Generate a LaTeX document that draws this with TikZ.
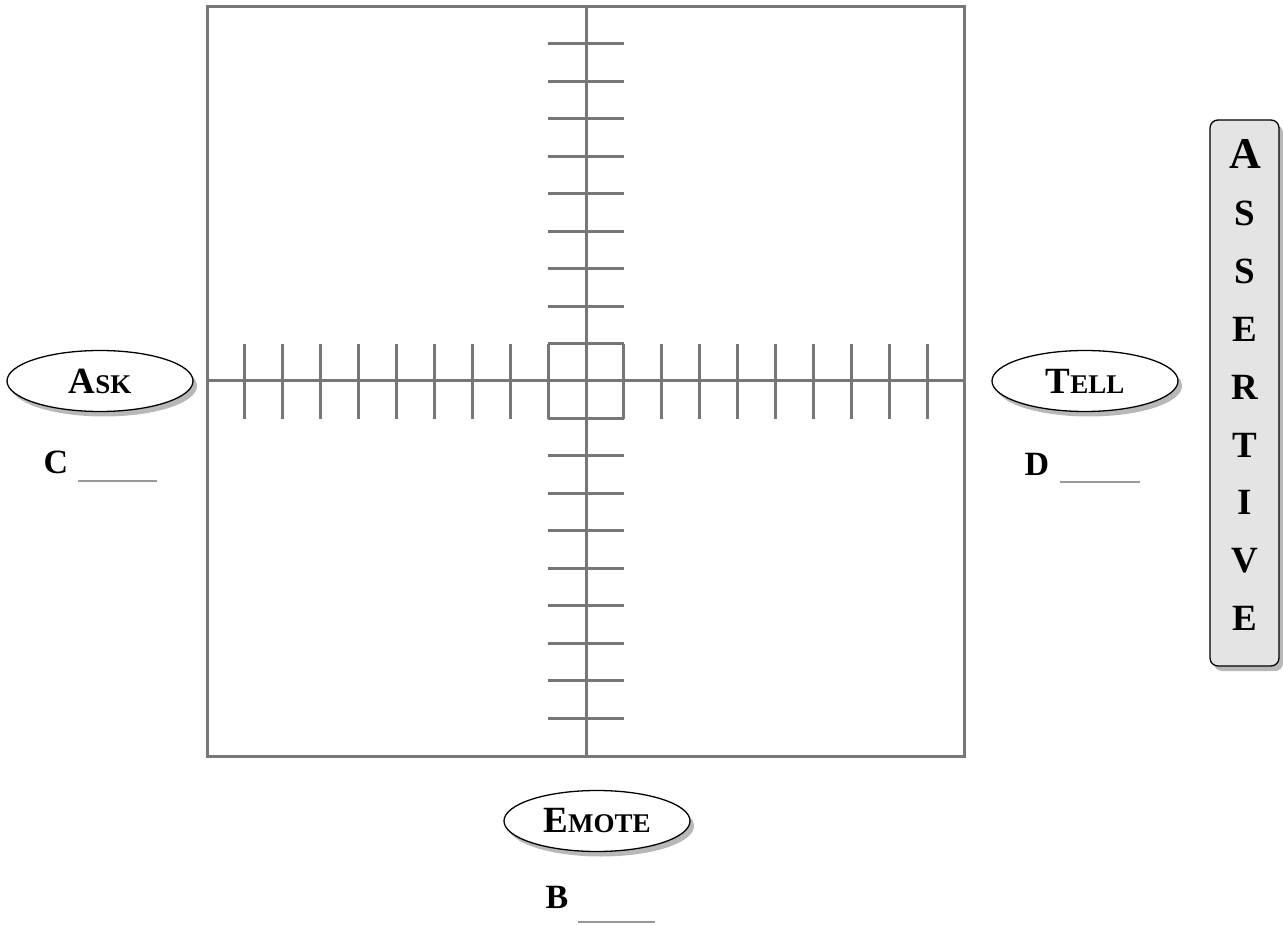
\documentclass[tikz,border=0pt]{standalone}
\usepackage{fontspec}
\setmainfont{Liberation Serif}
\usetikzlibrary{shapes.geometric,shadows}
\definecolor{axisgray}{HTML}{777777}
\definecolor{linegray}{HTML}{9A9A9A}
\definecolor{boxfill}{HTML}{E4E4E4}
\newcommand{\fakesc}[2]{{\fontsize{37}{40}\selectfont #1}{\fontsize{27}{30}\selectfont #2}}
\begin{document}
\begin{tikzpicture}[x=1pt,y=-1pt,
  axis/.style={draw=axisgray,line width=3pt},
  oval/.style={ellipse,draw=black,line width=1.3pt,fill=white,minimum width=186pt,minimum height=61pt,inner sep=0pt,
    drop shadow={shadow xshift=4pt,shadow yshift=-5pt,fill=black!28,opacity=1},font=\bfseries},
  letter/.style={font=\fontsize{34}{36}\selectfont\bfseries,inner sep=0pt},
  vletter/.style={font=\fontsize{37}{40}\selectfont\bfseries,inner sep=0pt},
  blank/.style={draw=linegray,line width=1.5pt},
  vbox/.style={draw=black,line width=1.3pt,fill=boxfill,rounded corners=8pt,
    drop shadow={shadow xshift=4pt,shadow yshift=-5pt,fill=black!28,opacity=1}}]
\useasboundingbox (0,0) rectangle (1283,925);
% frame and axes
\coordinate (tl) at (207,7);
\coordinate (br) at (964,756);
\draw[axis] (tl) rectangle (br);
\draw[axis] (586,7) -- (586,756);
\draw[axis] (207,381) -- (964,381);
\foreach \k in {1,...,9}{
  \draw[axis] (548,381-\k*37.45) -- (624,381-\k*37.45);
  \draw[axis] (548,381+\k*37.45) -- (624,381+\k*37.45);
  \draw[axis] (586-\k*37.95,344) -- (586-\k*37.95,419);
  \draw[axis] (586+\k*37.95,344) -- (586+\k*37.95,419);
}
% ovals
\node[oval] (ask) at (100,381) {\fakesc{A}{SK}};
\node[oval] (tell) at (1085,381) {\fakesc{T}{ELL}};
\node[oval] (emote) at (597,821) {\fakesc{E}{MOTE}};
% letters and blanks
\node[letter,anchor=base] (c) at (56,473) {C};
\coordinate (c1) at (78,481); \coordinate (c2) at (157,481);
\draw[blank] (c1) -- (c2);
\node[letter,anchor=base] (d) at (1037,475) {D};
\coordinate (d1) at (1060,482); \coordinate (d2) at (1140,482);
\draw[blank] (d1) -- (d2);
\node[letter,anchor=base] (b) at (557,908) {B};
\coordinate (b1) at (578,922); \coordinate (b2) at (655,922);
\draw[blank] (b1) -- (b2);
% assertive box
\draw[vbox] (1210,120) rectangle (1279,666);
\node[vletter,anchor=base,font=\fontsize{44}{46}\selectfont\bfseries] (as1) at (1245,169) {A};
\foreach \ch [count=\i from 2] in {S,S,E,R,T,I,V,E}{
  \node[vletter,anchor=base] (as\i) at (1245,168+57.8*\i-57.8) {\ch};
}
\end{tikzpicture}
\end{document}
